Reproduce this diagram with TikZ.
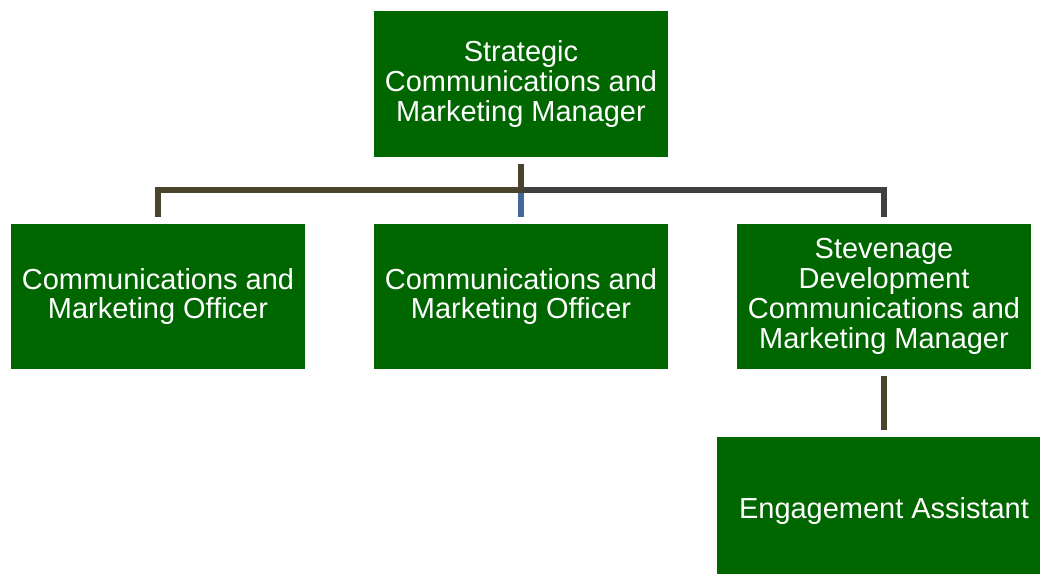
\documentclass[tikz,border=0pt]{standalone}
\usepackage{fontspec}
\setmainfont{Liberation Sans}

\definecolor{postgreen}{RGB}{0,102,0}
\definecolor{linkolive}{RGB}{74,68,44}
\definecolor{linkgray}{RGB}{64,64,64}
\definecolor{linkblue}{RGB}{68,103,156}

\begin{document}
\begin{tikzpicture}[x=0.025cm, y=-0.025cm,
    every node/.style={font=\fontsize{20.6pt}{21.3pt}\selectfont},
    post/.style={fill=postgreen, text=white, align=center,
      minimum width=7.35cm, minimum height=3.625cm, inner sep=0pt},
    link/.style={line width=3.7pt, line join=miter}]
  \useasboundingbox (0,0) rectangle (1040,574);
  \def\gap{0.175cm}

  \coordinate (bar) at (0,190);

  % The posts, one row per level.
  \node[post] (smm) at (521,84) {Strategic\\Communications and\\Marketing Manager};
  \node[post] (cmo1) at (158,296.5) {Communications and\\Marketing Officer};
  \node[post] (cmo2) at (521,296.5) {Communications and\\Marketing Officer};
  \node[post] (sdm) at (884,296.5) {Stevenage\\Development\\Communications and\\Marketing Manager};
  \node[post, minimum width=8.075cm, minimum height=3.425cm] (ea) at (878.5,505.5)
      {\hspace*{0.275cm}\raisebox{-0.33cm}[0pt][0pt]{Engagement Assistant}};

  % Reporting lines: the blue drop first, so the bar covers its top.
  \draw[link, linkblue] (smm.south |- bar) -- ([yshift=\gap]cmo2.north);
  \draw[link, linkgray] (smm.south |- bar) -- (sdm.north |- bar)
      -- ([yshift=\gap]sdm.north);
  \draw[link, linkolive] ([yshift=\gap]cmo1.north) -- (cmo1.north |- bar)
      -- (smm.south |- bar);
  \draw[link, linkolive] ([yshift=-\gap]smm.south) -- (smm.south |- bar);
  \draw[link, linkolive] ([yshift=-\gap]sdm.south)
      -- ([yshift=\gap]sdm.south |- ea.north);
\end{tikzpicture}
\end{document}
